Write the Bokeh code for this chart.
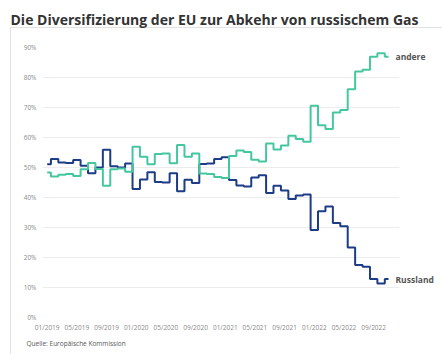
from bokeh.plotting import figure
from bokeh.models import Range1d, FixedTicker, Label
from bokeh.embed import file_html
from bokeh.resources import INLINE

# ---- data (monthly shares, Jan 2019 .. Nov 2022) ----
russland = [51.1, 52.8, 51.7, 51.5, 52.5, 50.6, 48.1, 50.0, 55.9, 50.4, 50.0, 51.3,
            42.8, 46.0, 48.4, 45.2, 45.0, 48.1, 42.1, 45.9, 44.8, 51.2, 51.3, 52.8,
            53.4, 45.8, 44.0, 43.7, 46.7, 47.4, 41.5, 43.9, 42.3, 39.5, 40.7, 41.0,
            29.2, 35.4, 37.0, 31.5, 30.4, 23.3, 17.5, 16.9, 12.8, 11.3, 12.8]
andere = [48.3, 47.0, 47.6, 47.8, 47.2, 49.4, 51.5, 49.5, 43.9, 49.4, 49.7, 48.6,
          56.9, 53.6, 51.1, 54.5, 54.7, 51.4, 57.5, 53.6, 54.7, 48.0, 47.8, 46.8,
          46.5, 53.8, 55.7, 55.2, 52.6, 52.0, 58.0, 56.0, 57.3, 60.6, 59.5, 58.6,
          70.6, 64.1, 62.8, 68.3, 69.2, 76.1, 82.0, 82.6, 86.9, 88.1, 86.9]
month_index = list(range(len(russland)))

x_tick_pos = [0, 4, 8, 12, 16, 20, 24, 28, 32, 36, 40, 44]
x_tick_labels = ["01/2019", "05/2019", "09/2019", "01/2020", "05/2020", "09/2020",
                 "01/2021", "05/2021", "09/2021", "01/2022", "05/2022", "09/2022"]
y_ticks = [0, 10, 20, 30, 40, 50, 60, 70, 80, 90]
y_tick_labels = ["0%", "10%", "20%", "30%", "40%", "50%", "60%", "70%", "80%", "90%"]

title_text = "Die Diversifizierung der EU zur Abkehr von russischem Gas"
source_text = "Quelle: Europäische Kommission"

# ---- geometry ----
W, H = 442, 354
FL, FR, FT, FB = 42, 399, 47, 317      # frame edges in px
PX_PER_MONTH = 7.42
X0_PX = 46.7                            # px of first month
x_start = -(X0_PX - FL) / PX_PER_MONTH
x_end = x_start + (FR - FL) / PX_PER_MONTH
y_start, y_end = 0, 90
py_per = (FB - FT) / (y_end - y_start)


def px(xp, yp):
    return (x_start + (xp - FL) / PX_PER_MONTH, y_start + (FB - yp) / py_per)


p = figure(width=W, height=H, output_backend="svg", toolbar_location=None,
           title=None,
           x_range=Range1d(x_start, x_end), y_range=Range1d(y_start, y_end),
           min_border_left=FL, min_border_right=W - FR,
           min_border_top=FT, min_border_bottom=H - FB)
p.outline_line_color = None
p.background_fill_color = "white"
p.border_fill_color = None
# thin light container border (top line under the title, left edge)
p.styles = {
    "background-color": "white",
    "background-image": "linear-gradient(#e2e2e2, #e2e2e2), linear-gradient(#e2e2e2, #e2e2e2)",
    "background-size": "432px 1px, 1px 327px",
    "background-position": "10px 27px, 10px 27px",
    "background-repeat": "no-repeat",
}

p.xgrid.visible = False
p.ygrid.ticker = FixedTicker(ticks=y_ticks)
p.ygrid.grid_line_color = "#ececec"
p.ygrid.grid_line_width = 1

p.xaxis.ticker = FixedTicker(ticks=x_tick_pos)
p.xaxis.major_label_overrides = {t: l for t, l in zip(x_tick_pos, x_tick_labels)}
p.yaxis.ticker = FixedTicker(ticks=y_ticks)
p.yaxis.major_label_overrides = {t: l for t, l in zip(y_ticks, y_tick_labels)}
for ax in (p.xaxis, p.yaxis):
    ax.axis_line_color = None
    ax.major_tick_line_color = None
    ax.minor_tick_line_color = None
    ax.major_tick_out = 0
    ax.major_tick_in = 0
    ax.minor_tick_out = 0
    ax.minor_tick_in = 0
    ax.major_label_text_font = "Open Sans"
    ax.major_label_text_font_size = "6.5px"
    ax.major_label_text_color = "#8a8a8a"
p.xaxis.major_label_standoff = 5
p.yaxis.major_label_standoff = 6

p.step(month_index, russland, mode="center", line_color="#1c3c87", line_width=2)
p.step(month_index, andere, mode="center", line_color="#45c79e", line_width=2)

# texts are placed in a side panel (so they are not clipped to the frame);
# their positions are in data units of the frame scales
lx, _ = px(395, 0)
p.add_layout(Label(x=lx, y=andere[-1], text="andere", text_font="Open Sans",
                   text_font_style="bold", text_font_size="8.5px",
                   text_color="#555555", text_baseline="middle", text_align="left"), "above")
p.add_layout(Label(x=lx, y=russland[-1], text="Russland", text_font="Open Sans",
                   text_font_style="bold", text_font_size="8.5px",
                   text_color="#555555", text_baseline="middle", text_align="left"), "above")

tx, ty = px(10, 19)
p.add_layout(Label(x=tx, y=ty, text=title_text, text_font="Open Sans",
                   text_font_style="bold", text_font_size="14px",
                   text_color="#333333", text_baseline="alphabetic"), "above")
sx, sy = px(26, 343)
p.add_layout(Label(x=sx, y=sy, text=source_text, text_font="Open Sans",
                   text_font_size="6.5px", text_color="#555555",
                   text_baseline="middle"), "below")

open("out.html", "w").write(file_html(p, INLINE))
